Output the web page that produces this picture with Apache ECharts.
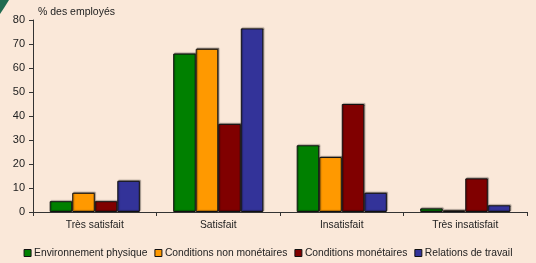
<!DOCTYPE html>
<html>
<head>
<meta charset="utf-8">
<script src="https://cdn.jsdelivr.net/npm/echarts@6/dist/echarts.min.js"></script>
<style>
  html, body { margin: 0; padding: 0; background: #fae8d9; }
  #chart { width: 536px; height: 263px; }
</style>
</head>
<body>
<div id="chart"></div>
<script>
// categories et séries
var categories = ['Très satisfait', 'Satisfait', 'Insatisfait', 'Très insatisfait'];
var envPhysique = [4.5, 66, 27.8, 1.5];
var condNonMonetaires = [8, 68, 22.9, 0.7];
var condMonetaires = [4.5, 36.7, 45, 14];
var relationsTravail = [13, 76.5, 8, 2.8];
var seriesNames = ['Environnement physique', 'Conditions non monétaires', 'Conditions monétaires', 'Relations de travail'];
var colors = ['#008000', '#ff9900', '#800000', '#333399'];

var chart = echarts.init(document.getElementById('chart'));

function barSerie(name, data, color) {
  return {
    name: name,
    type: 'bar',
    data: data,
    barGap: '0%',
    barCategoryGap: '27%',
    itemStyle: {
      color: color,
      borderColor: '#111',
      borderWidth: 1,
      shadowColor: 'rgba(0,0,0,0.35)',
      shadowOffsetX: 1,
      shadowOffsetY: -1,
      shadowBlur: 1
    }
  };
}

chart.setOption({
  backgroundColor: '#fae8d9',
  animation: false,
  textStyle: { fontFamily: 'Liberation Sans, Arial, sans-serif' },
  // petit décor vert en haut à gauche
  graphic: [{
    type: 'polygon',
    shape: { points: [[0, 0], [9, 0], [4, 8], [0, 14]] },
    style: { fill: '#1f6b50' }
  }],
  title: {
    text: '% des employés',
    left: 33,
    top: 2,
    textStyle: { fontSize: 10.5, fontWeight: 'normal', color: '#222' }
  },
  grid: { left: 33, right: 9, top: 20, bottom: 51 },
  legend: {
    bottom: 0,
    left: 'center',
    itemWidth: 7,
    itemHeight: 7,
    itemGap: 7,
    icon: 'rect',
    data: seriesNames,
    itemStyle: { borderColor: '#111', borderWidth: 1 },
    textStyle: { fontSize: 10.3, color: '#222', padding: [0, 0, 0, -2] }
  },
  xAxis: {
    type: 'category',
    data: categories,
    axisLine: { lineStyle: { color: '#333', width: 1 } },
    axisTick: { show: true, alignWithLabel: false, length: 4, lineStyle: { color: '#333' } },
    axisLabel: { fontSize: 10.3, color: '#222', margin: 8 }
  },
  yAxis: {
    type: 'value',
    min: 0,
    max: 80,
    interval: 10,
    axisLine: { show: true, lineStyle: { color: '#333', width: 1 } },
    axisTick: { show: true, length: 4, lineStyle: { color: '#333' } },
    axisLabel: { fontSize: 11, color: '#222', margin: 8 },
    splitLine: { show: false }
  },
  series: [
    barSerie(seriesNames[0], envPhysique, colors[0]),
    barSerie(seriesNames[1], condNonMonetaires, colors[1]),
    barSerie(seriesNames[2], condMonetaires, colors[2]),
    barSerie(seriesNames[3], relationsTravail, colors[3])
  ]
});
</script>
</body>
</html>
